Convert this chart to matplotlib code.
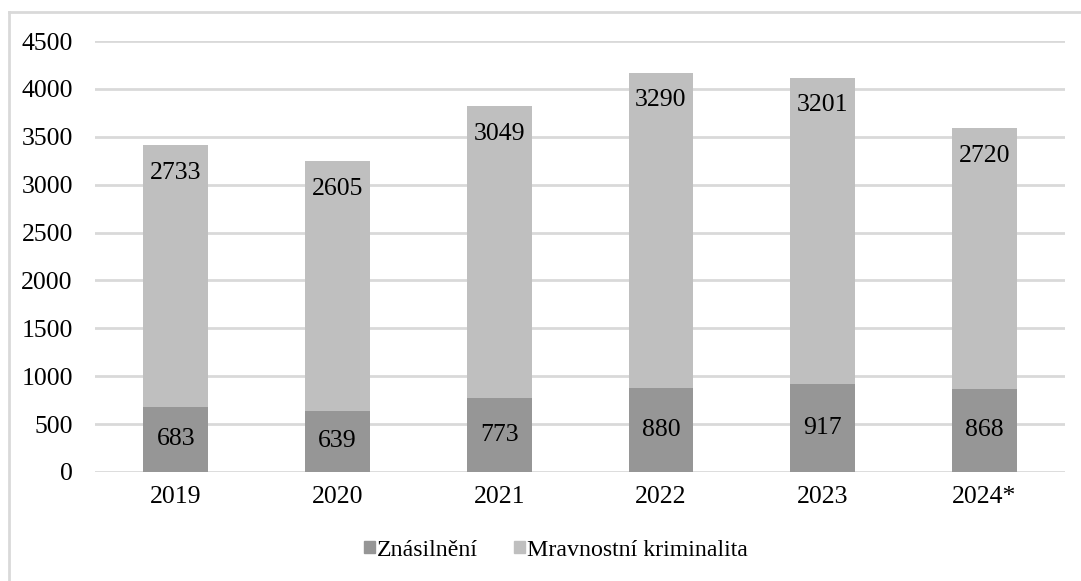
import matplotlib
matplotlib.use("Agg")
import matplotlib.pyplot as plt
from matplotlib.patches import Rectangle
from matplotlib.lines import Line2D

years = ["2019", "2020", "2021", "2022", "2023", "2024*"]
znasilneni = [683, 639, 773, 880, 917, 868]
mravnostni = [2733, 2605, 3049, 3290, 3201, 2720]
yticks = [0, 500, 1000, 1500, 2000, 2500, 3000, 3500, 4000, 4500]

plt.rcParams['font.family'] = ['Liberation Serif', 'DejaVu Serif']
FS = 18.5

fig = plt.figure(figsize=(10.81, 5.81), dpi=100)
ax = fig.add_axes([95/1081, 109/581, 970/1081, 431/581])

x = list(range(len(years)))
c_dark = "#969696"
c_light = "#bfbfbf"
w = 0.4
ax.bar(x, znasilneni, width=w, color=c_dark, zorder=3, label="Znásilnění")
ax.bar(x, mravnostni, width=w, bottom=znasilneni, color=c_light, zorder=3,
       label="Mravnostní kriminalita")

for i in x:
    ax.text(i, znasilneni[i] / 2, str(znasilneni[i]), ha="center", va="center",
            fontsize=FS, color="black", zorder=4)
    top = znasilneni[i] + mravnostni[i]
    ax.text(i, top - 290, str(mravnostni[i]), ha="center", va="center",
            fontsize=FS, color="black", zorder=4)

ax.set_xlim(-0.5, len(years) - 0.5)
ax.set_ylim(0, 4500)
ax.set_yticks(yticks)
ax.set_yticklabels([str(t) for t in yticks])
ax.set_xticks(x)
ax.set_xticklabels(years)
ax.tick_params(axis="both", length=0, labelsize=FS, colors="black")
ax.tick_params(axis="y", pad=16)
ax.tick_params(axis="x", pad=10)
ax.yaxis.grid(True, color="#d9d9d9", linewidth=2)
ax.set_axisbelow(True)
for s in ax.spines.values():
    s.set_visible(False)

handles = [Rectangle((0, 0), 1, 1, color=c_dark), Rectangle((0, 0), 1, 1, color=c_light)]
fig.legend(handles, ["Znásilnění", "Mravnostní kriminalita"], loc="center",
           bbox_to_anchor=(556/1081, 1 - 550/581), ncol=2, frameon=False,
           fontsize=17.2, handlelength=0.45, handleheight=0.45, handletextpad=0.1,
           columnspacing=1.5)

# outer frame (left and top edges visible)
fig.add_artist(Line2D([9/1081, 9/1081], [0, 1 - 12/581], transform=fig.transFigure,
                      color="#d9d9d9", linewidth=2))
fig.add_artist(Line2D([9/1081, 1], [1 - 12/581, 1 - 12/581], transform=fig.transFigure,
                      color="#d9d9d9", linewidth=2))

fig.savefig("out.png", dpi=100)
